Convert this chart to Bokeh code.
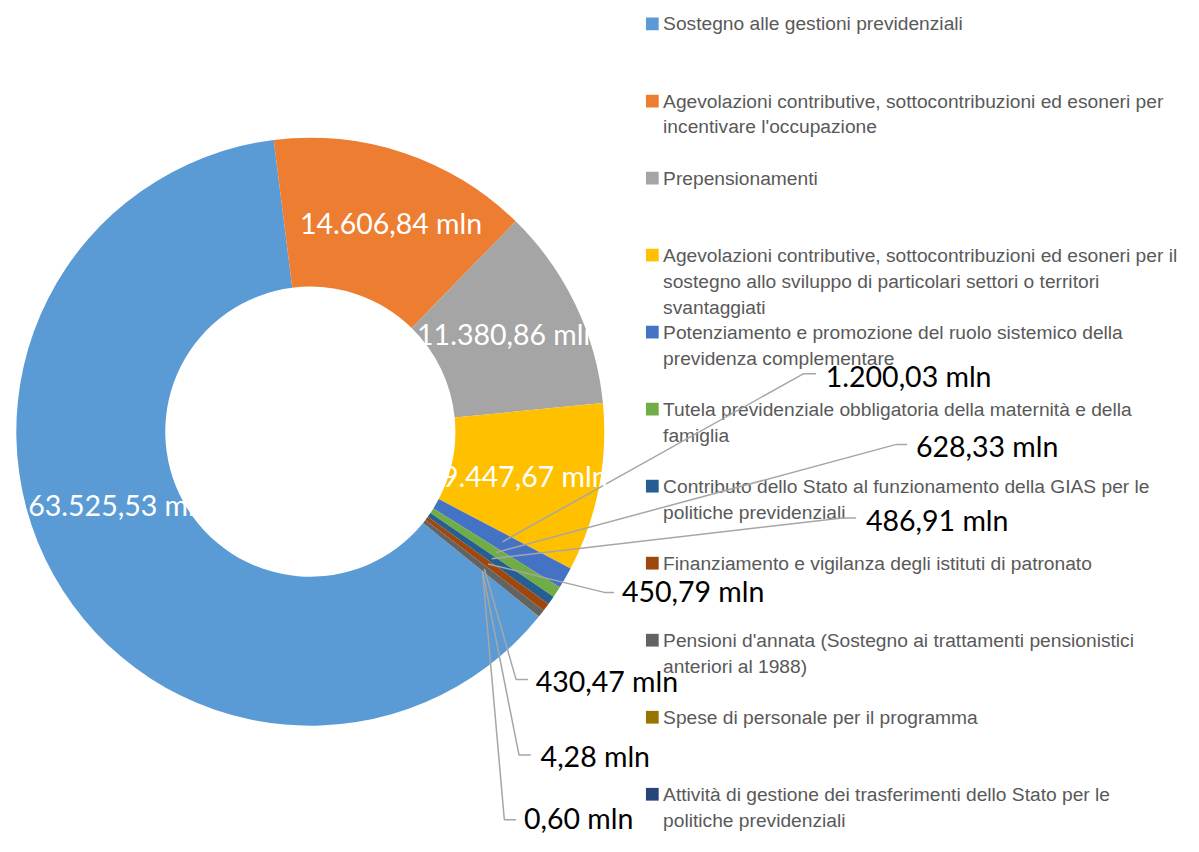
import math
from bokeh.plotting import figure
from bokeh.models import Range1d, ColumnDataSource
from bokeh.core.properties import value
from bokeh.embed import file_html
from bokeh.resources import INLINE

# ---------------- data ----------------
categories = [
    "Sostegno alle gestioni previdenziali",
    "Agevolazioni contributive, sottocontribuzioni ed esoneri per incentivare l'occupazione",
    "Prepensionamenti",
    "Agevolazioni contributive, sottocontribuzioni ed esoneri per il sostegno allo sviluppo di particolari settori o territori svantaggiati",
    "Potenziamento e promozione del ruolo sistemico della previdenza complementare",
    "Tutela previdenziale obbligatoria della maternità e della famiglia",
    "Contributo dello Stato al funzionamento della GIAS per le politiche previdenziali",
    "Finanziamento e vigilanza degli istituti di patronato",
    "Pensioni d'annata (Sostegno ai trattamenti pensionistici anteriori al 1988)",
    "Spese di personale per il programma",
    "Attività di gestione dei trasferimenti dello Stato per le politiche previdenziali",
]
values = [63525.53, 14606.84, 11380.86, 9447.67, 1200.03, 628.33, 486.91,
          450.79, 430.47, 4.28, 0.60]
colors = ["#5B9BD5", "#ED7D31", "#A5A5A5", "#FFC000", "#4472C4", "#70AD47",
          "#255E91", "#9E480E", "#636363", "#997300", "#264478"]
# legend text, wrapped as in the original
legend_lines = [
    ["Sostegno alle gestioni previdenziali"],
    ["Agevolazioni contributive, sottocontribuzioni ed esoneri per",
     "incentivare l'occupazione"],
    ["Prepensionamenti"],
    ["Agevolazioni contributive, sottocontribuzioni ed esoneri per il",
     "sostegno allo sviluppo di particolari settori o territori",
     "svantaggiati"],
    ["Potenziamento e promozione del ruolo sistemico della",
     "previdenza complementare"],
    ["Tutela previdenziale obbligatoria della maternità e della",
     "famiglia"],
    ["Contributo dello Stato al funzionamento della GIAS per le",
     "politiche previdenziali"],
    ["Finanziamento e vigilanza degli istituti di patronato"],
    ["Pensioni d'annata (Sostegno ai trattamenti pensionistici",
     "anteriori al 1988)"],
    ["Spese di personale per il programma"],
    ["Attività di gestione dei trasferimenti dello Stato per le",
     "politiche previdenziali"],
]

# ---------------- layout ----------------
W, H = 1183, 836
S, OX, OY = 0.98, 6.0, -2.0      # fit the 1199x852 design into the figure

def X(px):
    return S * px + OX

def Y(py):
    return H - (S * py + OY)

CX, CY = 310, 442          # donut centre (design px)
R_OUT, R_IN = 300, 148
START_CW = 129.0           # first slice angle (deg, clockwise from 12 o'clock)
LABEL_R = 224              # radius of inside labels
LEADER_R = 226             # radius where leader lines start

# inside labels (first four slices): small shifts from the mid-ring point
inner_shift = [(1, -34), (11, -1), (0, -3), (-1, 2)]
# outside labels (slices 5..11): elbow x, elbow y, end x, text left x, text y
outer_layout = [
    (813, 383, 826, 836, 385),
    (908, 455, 919, 928, 457),
    (853, 530, 867, 877, 532),
    (610, 606, 620, 628, 605),
    (520, 695, 532, 540, 696),
    (523, 772, 535, 545, 773),
    (508, 838, 520, 528, 836),
]

LEG_SQ_X = 659
LEG_SQ = 13
LEG_TX = 670
LEG_Y0 = 26
LEG_STEP = 78.6
LEG_LINE = 26.5

LABEL_FONT = "Lato"
LABEL_SIZE = "28.5px"
LEG_FONT = "Liberation Sans"
LEG_SIZE = "19.2px"

def fmt(v):
    s = f"{v:,.2f}"
    s = s.replace(",", "#").replace(".", ",").replace("#", ".")
    return s + " mln"

total = sum(values)

p = figure(width=W, height=H, x_range=Range1d(0, W), y_range=Range1d(0, H),
           output_backend="svg", toolbar_location=None,
           x_axis_location=None, y_axis_location=None,
           min_border=0, outline_line_color=None)
p.xgrid.visible = False
p.ygrid.visible = False
p.background_fill_color = "white"
p.border_fill_color = "white"

# ---------------- wedges ----------------
starts, ends, mids = [], [], []
cum = 0.0
for v in values:
    t1 = START_CW + cum / total * 360.0
    t2 = START_CW + (cum + v) / total * 360.0
    cum += v
    starts.append(math.radians(90 - t2))
    ends.append(math.radians(90 - t1))
    mids.append((t1 + t2) / 2.0)

src = ColumnDataSource(dict(start=starts, end=ends, color=colors))
p.annular_wedge(x=X(CX), y=Y(CY), inner_radius=R_IN * S, outer_radius=R_OUT * S,
                start_angle="start", end_angle="end", fill_color="color",
                line_color=None, source=src)

# ---------------- legend ----------------
sq_x, sq_y, sq_c = [], [], []
lt_x, lt_y, lt_t = [], [], []
for i, lines in enumerate(legend_lines):
    y0 = LEG_Y0 + i * LEG_STEP
    sq_x.append(X(LEG_SQ_X)); sq_y.append(Y(y0)); sq_c.append(colors[i])
    for j, ln in enumerate(lines):
        lt_x.append(X(LEG_TX)); lt_y.append(Y(y0 + j * LEG_LINE)); lt_t.append(ln)
p.rect(x=sq_x, y=sq_y, width=LEG_SQ * S, height=LEG_SQ * S,
       fill_color=sq_c, line_color=None)
p.text(x=lt_x, y=lt_y, text=lt_t, text_font=value(LEG_FONT),
       text_font_size=LEG_SIZE, text_color="#595959",
       text_align="left", text_baseline="middle")

# ---------------- leader lines + outside labels ----------------
xs, ys = [], []
ox, oy, ot = [], [], []
for k, (ex, ey, endx, tx, ty) in enumerate(outer_layout):
    i = 4 + k
    a = math.radians(mids[i])
    sx = CX + LEADER_R * math.sin(a)
    sy = CY - LEADER_R * math.cos(a)
    xs.append([X(sx), X(ex), X(endx)])
    ys.append([Y(sy), Y(ey), Y(ey)])
    ox.append(X(tx)); oy.append(Y(ty)); ot.append(fmt(values[i]))
p.multi_line(xs=xs, ys=ys, line_color="#A6A6A6", line_width=1.5)
p.text(x=ox, y=oy, text=ot, text_font=value(LABEL_FONT),
       text_font_size=LABEL_SIZE, text_color="black",
       text_align="left", text_baseline="middle")

# ---------------- inside labels ----------------
ix, iy, it = [], [], []
for i in range(4):
    a = math.radians(mids[i])
    lx = CX + LABEL_R * math.sin(a) + inner_shift[i][0]
    ly = CY - LABEL_R * math.cos(a) + inner_shift[i][1]
    ix.append(X(lx)); iy.append(Y(ly)); it.append(fmt(values[i]))
p.text(x=ix, y=iy, text=it, text_font=value(LABEL_FONT),
       text_font_size=LABEL_SIZE, text_color="white",
       text_align="center", text_baseline="middle")

open("out.html", "w").write(file_html(p, INLINE))
